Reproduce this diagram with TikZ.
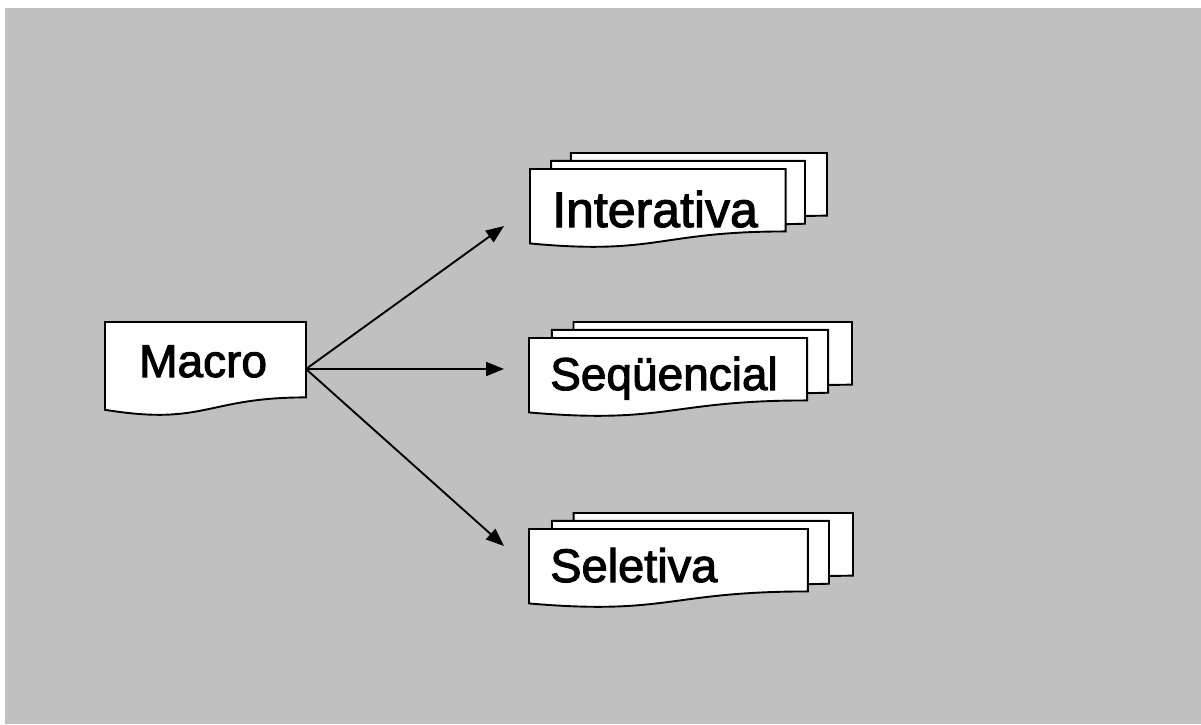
\documentclass[tikz,border=0pt]{standalone}
\usepackage{fontspec}
\usetikzlibrary{arrows.meta}
\newfontfamily\lblfont{Liberation Sans}[FakeBold=2.2]

\definecolor{panelgray}{HTML}{C0C0C0}

\tikzset{
  docshape/.style={draw=black, fill=white, line width=1.9pt, line join=miter},
  lbl/.style={inner sep=0pt, anchor=base west, font=\lblfont},
  link/.style={draw=black, line width=1.9pt, -{Triangle[length=18pt,width=14pt]}}
}

% single document shape: #1,#2 = top left, #3 = width, #4 = height
\newcommand\singledoc[4]{%
  \begin{scope}[shift={(#1,#2)}, x=#3pt, y=-#4pt]
    \path[docshape] (0,0) -- (1,0) -- (1,0.802)
      .. controls (0.5,0.802) and (0.5,1.1075) .. (0,0.9339) -- cycle;
  \end{scope}}

% stacked multi-document shape: #1,#2 = top left, #3 = width, #4 = height
\newcommand\stackdoc[4]{%
  \begin{scope}[shift={(#1,#2)}, x=#3pt, y=-#4pt]
    \path[docshape] (0.1376,0) -- (1,0) -- (1,0.666)
      -- (0.926,0.6698) -- (0.1376,0.6698) -- cycle;
    \path[docshape] (0.0709,0.084) -- (0.926,0.084) -- (0.926,0.7524)
      -- (0.8609,0.757) -- (0.0709,0.757) -- cycle;
    \path[docshape] (0,0.170) -- (0.8609,0.170) -- (0.8609,0.8344)
      .. controls (0.4305,0.8344) and (0.4305,1.0899) .. (0,0.9621) -- cycle;
  \end{scope}}

\begin{document}
\begin{tikzpicture}[x=1pt, y=-1pt]
  \useasboundingbox (0,0) rectangle (1201,724);
  \fill[white] (0,0) rectangle (1201,724);
  \fill[panelgray] (5,8) rectangle (1201,724);

  % source document
  \singledoc{105}{322}{201}{94}
  \node[lbl, font=\lblfont\fontsize{46}{46}\selectfont] (macro) at (139,377) {Macro};

  % target stacks
  \stackdoc{530}{153}{297}{94}
  \node[lbl, font=\lblfont\fontsize{50}{50}\selectfont] (interativa) at (552,227) {Interativa};

  \stackdoc{529}{322}{323}{94}
  \node[lbl, font=\lblfont\fontsize{46}{46}\selectfont] (sequencial) at (550,390) {Seqüencial};

  \stackdoc{529}{513}{324}{94}
  \node[lbl, font=\lblfont\fontsize{47}{47}\selectfont] (seletiva) at (550,582) {Seletiva};

  % connectors
  \coordinate (macroOut) at (306,369);
  \coordinate (tipTop) at (504,226);
  \coordinate (tipMid) at (504,369);
  \coordinate (tipLow) at (504,546);
  \draw[link] (macroOut) -- (tipTop);
  \draw[link] (macroOut) -- (tipMid);
  \draw[link] (macroOut) -- (tipLow);
\end{tikzpicture}
\end{document}
